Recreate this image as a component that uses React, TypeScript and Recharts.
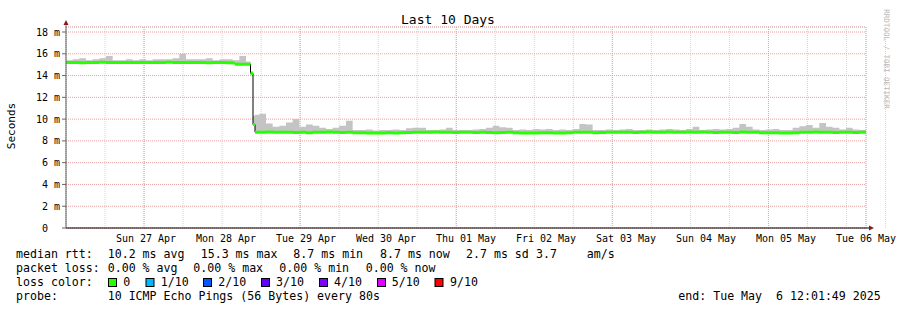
import React from 'react';
import { ComposedChart, Area, Line, XAxis, YAxis, CartesianGrid } from 'recharts';

// hours since graph start (Sat 26 Apr 12:01:49)
const hours = [
  0, 2, 4, 6, 8, 10, 12, 14, 16, 18, 20, 22,
  24, 26, 28, 30, 32, 34, 36, 38, 40, 42, 44, 46,
  48, 50, 50.7, 52, 54, 55.35, 56.1, 56.7, 58, 60, 62, 64, 66, 68, 70,
  72, 74, 76, 78, 80, 82, 84, 86, 88, 90, 92, 94,
  96, 98, 100, 102, 104, 106, 108, 110, 112, 114, 116, 118,
  120, 122, 124, 126, 128, 130, 132, 134, 136, 138, 140, 142,
  144, 146, 148, 150, 152, 154, 156, 158, 160, 162, 164, 166,
  168, 170, 172, 174, 176, 178, 180, 182, 184, 186, 188, 190,
  192, 194, 196, 198, 200, 202, 204, 206, 208, 210, 212, 214,
  216, 218, 220, 222, 224, 226, 228, 230, 232, 234, 236, 238,
  240,
];

// median rtt in ms
const median = [
  15.2, 15.2, 15.18, 15.2, 15.2, 15.22, 15.2, 15.2, 15.2, 15.2, 15.2, 15.2,
  15.2, 15.2, 15.2, 15.22, 15.2, 15.2, 15.2, 15.2, 15.2, 15.18, 15.2, 15.2,
  15.18, 15.15, 15.05, 15.05, 15.05, 14.2, 9.5, 8.8, 8.8, 8.82, 8.8, 8.8, 8.8, 8.78, 8.8,
  8.75, 8.8, 8.8, 8.82, 8.8, 8.78, 8.8, 8.75, 8.75, 8.72, 8.72, 8.72,
  8.75, 8.72, 8.75, 8.78, 8.8, 8.8, 8.8, 8.82, 8.8, 8.8, 8.78, 8.8,
  8.8, 8.78, 8.8, 8.78, 8.75, 8.78, 8.8, 8.75, 8.72, 8.72, 8.72, 8.75,
  8.75, 8.72, 8.72, 8.75, 8.8, 8.8, 8.8, 8.75, 8.78, 8.8, 8.8, 8.8,
  8.8, 8.78, 8.8, 8.82, 8.8, 8.8, 8.82, 8.8, 8.8, 8.82, 8.8, 8.82,
  8.8, 8.78, 8.8, 8.8, 8.78, 8.82, 8.8, 8.8, 8.75, 8.75, 8.75, 8.72,
  8.72, 8.75, 8.8, 8.8, 8.82, 8.8, 8.8, 8.78, 8.8, 8.8, 8.78, 8.8,
  8.8,
];

// top of the smoke (slowest pings) in ms
const smokeHi = [
  15.4, 15.5, 15.6, 15.4, 15.5, 15.6, 15.8, 15.4, 15.4, 15.5, 15.4, 15.5,
  15.4, 15.5, 15.5, 15.5, 15.6, 16.0, 15.5, 15.5, 15.5, 15.6, 15.4, 15.5,
  15.5, 15.4, 15.4, 15.8, 15.3, 14.4, 10.3, 10.4, 10.5, 9.6, 9.3, 9.4, 9.7, 10.0, 9.3,
  9.5, 9.4, 9.2, 9.1, 9.2, 9.4, 9.85, 9.0, 9.0, 9.05, 8.95, 9.0,
  9.0, 9.05, 9.0, 9.15, 9.2, 9.2, 9.0, 9.0, 9.05, 9.2, 9.0, 9.0,
  9.0, 9.05, 9.1, 9.2, 9.4, 9.25, 9.2, 9.0, 9.05, 9.0, 9.1, 9.05,
  9.1, 9.0, 9.05, 9.0, 9.1, 9.55, 9.5, 9.0, 9.0, 9.05, 9.0, 9.05,
  9.1, 9.0, 9.0, 9.05, 9.0, 9.05, 9.1, 9.05, 9.0, 9.1, 9.3, 9.0,
  9.05, 9.1, 9.05, 9.1, 9.2, 9.55, 9.3, 9.05, 9.0, 9.05, 9.1, 9.0,
  9.0, 9.2, 9.35, 9.45, 9.2, 9.65, 9.3, 9.2, 9.05, 9.2, 9.05, 9.0,
  9.0,
];

const dayLabels = [
  'Sun 27 Apr', 'Mon 28 Apr', 'Tue 29 Apr', 'Wed 30 Apr', 'Thu 01 May',
  'Fri 02 May', 'Sat 03 May', 'Sun 04 May', 'Mon 05 May', 'Tue 06 May',
];
const labelHours = [24, 48, 72, 96, 120, 144, 168, 192, 216, 240];
const midnightHours = [12, 36, 60, 84, 108, 132, 156, 180, 204, 228];
const sixHourTicks = Array.from({ length: 41 }, (_, i) => i * 6);
const yTicks = [0, 2, 4, 6, 8, 10, 12, 14, 16, 18];
const yMinorTicks = Array.from({ length: 37 }, (_, i) => i * 0.5);

const lossColors = [
  { label: '0', color: '#26ff00' },
  { label: '1/10', color: '#00b8ff' },
  { label: '2/10', color: '#0059ff' },
  { label: '3/10', color: '#5e00ff' },
  { label: '4/10', color: '#7e00ff' },
  { label: '5/10', color: '#dd00ff' },
  { label: '9/10', color: '#ff0000' },
];

const MONO = "'DejaVu Sans Mono', monospace";

const rows = hours.map((h, i) => ({ h, median: median[i], smoke: [median[i], smokeHi[i]] }));

// loss-coloured median drawn as separate flat pieces, black line shows the steps
const greenRows = hours.slice(0, -1).flatMap((h, i) => [
  { h, g: median[i] },
  { h: hours[i + 1], g: median[i] },
  { h: hours[i + 1], g: null },
]);

const YTick = (props: any) => {
  const { x, y, payload } = props;
  const v = payload.value;
  return (
    <text x={v === 0 ? x - 12 : x} y={y} textAnchor="end" dominantBaseline="central"
      fontSize={10} fontFamily={MONO} fill="#000">
      {v === 0 ? '0' : `${v} m`}
    </text>
  );
};

const XTick = (props: any) => {
  const { x, y, payload } = props;
  return (
    <text x={x} y={y} textAnchor="middle" dominantBaseline="central"
      fontSize={10} fontFamily={MONO} fill="#000">
      {dayLabels[labelHours.indexOf(payload.value)]}
    </text>
  );
};

const Txt = ({ x, y, children, size = 11.6, color = '#000' }: any) => (
  <div style={{
    position: 'absolute', left: x, top: y - 7, height: 14, lineHeight: '14px',
    fontFamily: MONO, fontSize: size, color, whiteSpace: 'pre',
  }}>{children}</div>
);

const boxX = [108.5, 146, 203.5, 261.5, 319.5, 377.5, 435];
const boxLabelX = [123.3, 160.7, 218.3, 276, 334, 391.7, 450];

export default function App() {
  return (
    <div style={{ position: 'absolute', left: 0, top: 0, width: 897, height: 310, background: '#fff', overflow: 'hidden' }}>
      <ComposedChart width={897} height={310} data={rows}
        margin={{ top: 27, right: 31, bottom: 62, left: 0 }}>
        {/* hidden axes only feed the two grids */}
        <XAxis xAxisId="xMinor" type="number" domain={[0, 240]} ticks={sixHourTicks} hide interval={0} />
        <XAxis xAxisId="xMajor" type="number" domain={[0, 240]} ticks={midnightHours} hide interval={0} />
        <YAxis yAxisId="yMinor" type="number" domain={[0, 18.46]} ticks={yMinorTicks} hide interval={0} />

        <CartesianGrid xAxisId="xMinor" yAxisId="yMinor" stroke="#d4d4d4" strokeDasharray="1 1" />
        <CartesianGrid xAxisId="xMajor" yAxisId="main" stroke="#e8a0a0" strokeDasharray="1 1" />

        <XAxis xAxisId="main" dataKey="h" type="number" domain={[0, 240]} ticks={labelHours}
          interval={0} height={20} tickSize={0} tickMargin={10} tick={<XTick />}
          axisLine={{ stroke: '#000' }} allowDataOverflow />
        <YAxis yAxisId="main" type="number" domain={[0, 18.46]} ticks={yTicks} interval={0}
          width={66} tickSize={4} tickMargin={2} tick={<YTick />}
          tickLine={{ stroke: '#666' }} axisLine={{ stroke: '#666' }} allowDataOverflow />

        <Area xAxisId="main" yAxisId="main" dataKey="smoke" type="stepAfter"
          fill="#c4c4c4" fillOpacity={1} stroke="none" isAnimationActive={false} />
        <Line xAxisId="main" yAxisId="main" dataKey="median" type="stepAfter"
          stroke="#000" strokeWidth={1} dot={false} activeDot={false} isAnimationActive={false} />
        <Line xAxisId="main" yAxisId="main" data={greenRows} dataKey="g" type="linear"
          stroke="#26ff00" strokeWidth={3} dot={false} activeDot={false}
          connectNulls={false} isAnimationActive={false} />
      </ComposedChart>

      <svg width={897} height={310} style={{ position: 'absolute', left: 0, top: 0, pointerEvents: 'none' }}>
        <line x1={66} y1={27} x2={66} y2={23} stroke="#666" />
        <polygon points="63.5,25 68.5,25 66,20" fill="#8b1a1a" />
        <line x1={866} y1={228} x2={870} y2={228} stroke="#000" />
        <polygon points="869,225.5 869,230.5 874,228" fill="#8b1a1a" />
        <text x={448} y={19} textAnchor="middle" dominantBaseline="central"
          fontSize={13} fontFamily={MONO} fill="#000">Last 10 Days</text>
        <text x={11} y={126} textAnchor="middle" dominantBaseline="central"
          fontSize={11} fontFamily={MONO} fill="#000" transform="rotate(-90 11 126)">Seconds</text>
        <text x={886} y={59} textAnchor="middle" dominantBaseline="central"
          fontSize={7.5} fontFamily={MONO} fill="#b8b8b8" transform="rotate(90 886 59)">RRDTOOL / TOBI OETIKER</text>
        {lossColors.map((c, i) => (
          <rect key={c.label} x={boxX[i]} y={278.5} width={8} height={8} fill={c.color} stroke="#000" strokeWidth={1} />
        ))}
      </svg>

      <Txt x={16} y={254}>median rtt:</Txt>
      <Txt x={107.7} y={254}>10.2 ms avg</Txt>
      <Txt x={200.7} y={254}>15.3 ms max</Txt>
      <Txt x={293.3} y={254}>8.7 ms min</Txt>
      <Txt x={380} y={254}>8.7 ms now</Txt>
      <Txt x={466} y={254}>2.7 ms sd</Txt>
      <Txt x={536} y={254}>3.7</Txt>
      <Txt x={586.7} y={254}>am/s</Txt>

      <Txt x={16} y={268}>packet loss:</Txt>
      <Txt x={107.7} y={268}>0.00 % avg</Txt>
      <Txt x={193.3} y={268}>0.00 % max</Txt>
      <Txt x={279.3} y={268}>0.00 % min</Txt>
      <Txt x={365.7} y={268}>0.00 % now</Txt>

      <Txt x={16} y={282}>loss color:</Txt>
      {lossColors.map((c, i) => (
        <Txt key={c.label} x={boxLabelX[i]} y={282}>{c.label}</Txt>
      ))}

      <Txt x={16} y={296}>probe:</Txt>
      <Txt x={107.7} y={296}>10 ICMP Echo Pings (56 Bytes) every 80s</Txt>
      <Txt x={678.3} y={296}>end: Tue May  6 12:01:49 2025</Txt>
    </div>
  );
}
